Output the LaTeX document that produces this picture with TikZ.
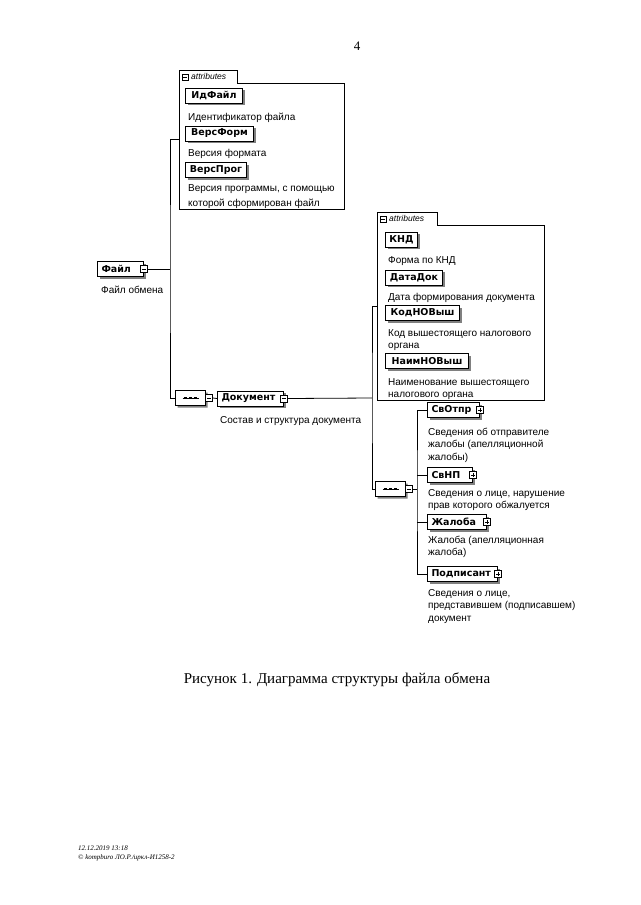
\documentclass[tikz,border=0pt]{standalone}
\usepackage{fontspec}
\setmainfont{Liberation Serif}
\setsansfont{Liberation Sans}
\newfontfamily\elemfont{DejaVu Sans}
\usetikzlibrary{shapes.misc,shadows,calc}
\tikzset{
  desc/.style={anchor=base west, inner sep=0pt, align=left, font=\sffamily\fontsize{10}{12.5}\selectfont},
  shad/.style={drop shadow={shadow xshift=2pt, shadow yshift=-2pt, fill=black!50, opacity=1}},
  elem/.style={draw, fill=white, line width=1pt, shad, anchor=west, minimum height=15pt, inner sep=0pt, font=\elemfont\bfseries\fontsize{9.5}{11}\selectfont},
  elemc/.style={elem, minimum width=#1},
  eleml/.style={elem, text width=#1, align=left, inner xsep=4pt},
  icminus/.style={draw, fill=white, line width=0.5pt, minimum size=7pt, inner sep=0pt,
    path picture={\draw[line width=0.6pt] ([xshift=1.4pt]path picture bounding box.west) -- ([xshift=-1.4pt]path picture bounding box.east);}},
  icplus/.style={draw, fill=white, line width=0.5pt, minimum size=7pt, inner sep=0pt,
    path picture={\draw[line width=0.6pt] ([xshift=1.4pt]path picture bounding box.west) -- ([xshift=-1.4pt]path picture bounding box.east)
      ([yshift=1.4pt]path picture bounding box.south) -- ([yshift=-1.4pt]path picture bounding box.north);}},
  seqst/.style={chamfered rectangle, chamfered rectangle xsep=4pt, chamfered rectangle ysep=4pt, draw, fill=white, line width=0.9pt, shad, minimum width=30pt, minimum height=15pt, inner sep=0pt},
  frame/.style={inner sep=0pt, anchor=north west},
  tabtext/.style={anchor=west, inner sep=0pt, font=\sffamily\itshape\fontsize{8.5}{9}\selectfont},
  conn/.style={line width=0.8pt},
}
\begin{document}
\begin{tikzpicture}[x=1pt,y=-1pt]
\useasboundingbox[fill=white] (0,0) rectangle (640,905);

% page number
\node[font=\fontsize{13}{14}\selectfont, inner sep=0pt] (pg) at (357,46) {4};

% root element
\node[eleml=38pt] (file) at (97,269) {Файл};
\node[icminus] (fileic) at (file.east) {};
\node[desc] (filed) at (101,293) {Файл обмена};

% attributes of Файл
\node[frame, minimum width=165pt, minimum height=126pt] (att1) at (179,83) {};
\node[inner sep=0pt, anchor=south west, minimum width=58pt, minimum height=12pt] (tab1) at (att1.north west) {};
\draw[line width=0.8pt] (att1.south west) -- (tab1.north west) -- (tab1.north east) -- (tab1.south east) -- (att1.north east) -- (att1.south east) -- cycle;
\node[icminus, minimum size=6pt] (tab1ic) at ([xshift=6pt]tab1.west) {};
\node[tabtext] (tab1t) at ([xshift=12pt]tab1.west) {attributes};

\node[elemc=57pt] (idf) at (185,95.5) {ИдФайл};
\node[desc] (idfd) at (188,120) {Идентификатор файла};
\node[elemc=68pt] (vform) at (185,133.5) {ВерсФорм};
\node[desc] (vformd) at (188,156) {Версия формата};
\node[elemc=61pt] (vprog) at (185,170) {ВерсПрог};
\node[desc] (vprogd) at (188,206) {Версия программы, с помощью\\[2.5pt]которой сформирован файл};

% sequence 1 and Документ
\node[seqst] (s1) at (190.5,398) {};
\draw[line width=0.6pt] ([xshift=-8pt]s1.center) -- ([xshift=8pt]s1.center);
\foreach \d in {-5,0,5} \fill ([xshift=\d pt]s1.center) +(-1.2pt,-1.2pt) rectangle +(1.2pt,1.2pt);
\node[icminus, anchor=west] (s1ic) at ([xshift=-0.5pt]s1.east) {};

\node[eleml=58pt] (doc) at (217,398.5) {Документ};
\node[icminus] (docic) at (doc.east) {};
\node[desc] (docd) at (220,423) {Состав и структура документа};

% attributes of Документ
\node[frame, minimum width=167pt, minimum height=175pt] (att2) at (377,225) {};
\node[inner sep=0pt, anchor=south west, minimum width=60pt, minimum height=12pt] (tab2) at (att2.north west) {};
\draw[line width=0.8pt] (att2.south west) -- (tab2.north west) -- (tab2.north east) -- (tab2.south east) -- (att2.north east) -- (att2.south east) -- cycle;
\node[icminus, minimum size=6pt] (tab2ic) at ([xshift=6pt]tab2.west) {};
\node[tabtext] (tab2t) at ([xshift=12pt]tab2.west) {attributes};

\node[elemc=32pt] (knd) at (385,239.5) {КНД};
\node[desc] (kndd) at (388,263) {Форма по КНД};
\node[elemc=57pt] (ddok) at (385,277.5) {ДатаДок};
\node[desc] (ddokd) at (388,300) {Дата формирования документа};
\node[elemc=74pt] (kodno) at (385,313) {КодНОВыш};
\node[desc] (kodnod) at (388,348.5) {Код вышестоящего налогового\\органа};
\node[elemc=83pt] (naimno) at (385,361) {НаимНОВыш};
\node[desc] (naimnod) at (388,397.5) {Наименование вышестоящего\\налогового органа};

% sequence 2 and children
\node[seqst] (s2) at (390.5,489) {};
\draw[line width=0.6pt] ([xshift=-8pt]s2.center) -- ([xshift=8pt]s2.center);
\foreach \d in {-5,0,5} \fill ([xshift=\d pt]s2.center) +(-1.2pt,-1.2pt) rectangle +(1.2pt,1.2pt);
\node[icminus, anchor=west] (s2ic) at ([xshift=-0.5pt]s2.east) {};

\node[eleml=44pt] (svotpr) at (427,410) {СвОтпр};
\node[icplus] (svotpric) at (svotpr.east) {};
\node[desc] (svotprd) at (428,460) {Сведения об отправителе\\жалобы (апелляционной\\жалобы)};

\node[eleml=37pt] (svnp) at (427,475) {СвНП};
\node[icplus] (svnpic) at (svnp.east) {};
\node[desc] (svnpd) at (428,508.5) {Сведения о лице, нарушение\\прав которого обжалуется};

\node[eleml=51pt] (zhal) at (427,522) {Жалоба};
\node[icplus] (zhalic) at (zhal.east) {};
\node[desc] (zhald) at (428,555.5) {Жалоба (апелляционная\\жалоба)};

\node[eleml=62pt] (podp) at (427,574) {Подписант};
\node[icplus] (podpic) at (podp.east) {};
\node[desc] (podpd) at (428,621) {Сведения о лице,\\представившем (подписавшем)\\документ};

% junctions
\coordinate (j1) at (170,269);
\coordinate (j2) at (372,398);
\coordinate (j3) at (417,489);

% connectors
\draw[conn] (fileic.east) -- (j1);
\draw[conn] ([yshift=7pt]att1.west) -| (j1) |- (s1.west);
\draw[conn] (s1ic.east) -- (doc.west);
\draw[conn] (docic.east) -- (j2);
\draw[conn] ([yshift=6.5pt]att2.west) -| (j2) |- (s2.west);
\draw[conn] (s2ic.east) -- (j3);
\draw[conn] (svotpr.west) -| (j3) |- (podp.west);
\draw[conn] (svnp.west) -- (svnp.west -| j3);
\draw[conn] (zhal.west) -- (zhal.west -| j3);

% caption
\node[font=\fontsize{15}{17}\selectfont, inner sep=0pt] (cap) at (337,680) {Рисунок 1. Диаграмма структуры файла обмена};

% footer
\node[anchor=base west, inner sep=0pt, align=left, font=\itshape\fontsize{7}{9}\selectfont] (foot) at (78,859) {12.12.2019 13:18\\© kompburo ЛО.Р./иркл-И1258-2};
\end{tikzpicture}
\end{document}
